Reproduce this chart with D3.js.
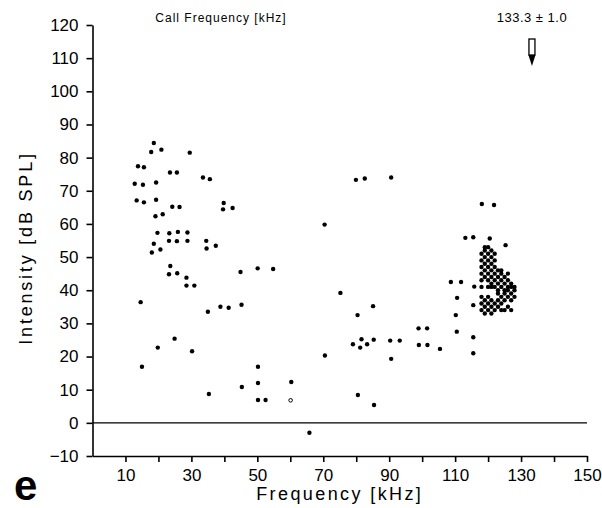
<!DOCTYPE html>
<html><head><meta charset="utf-8">
<script src="https://cdn.jsdelivr.net/npm/d3@7"></script>
<style>
body{margin:0;background:#fff}
svg{display:block}
text{font-family:"Liberation Sans",Arial,sans-serif;fill:#000}
</style>
</head><body>
<svg id="chart" width="602" height="508"></svg>
<script>
// ---------- data ----------
const xTickValues = [10,20,30,40,50,60,70,80,90,100,110,120,130,140,150];
const xTickLabels = ["10","","30","","50","","70","","90","","110","","130","","150"];
const yTickValues = [-10,0,10,20,30,40,50,60,70,80,90,100,110,120];

// scattered responses (kHz, dB SPL)
const scatterFreq = [18.6,17.8,20.9,29.5,13.8,15.6,23.5,25.6,33.5,35.6,12.8,15.3,19.3,13.4,15.6,19.3,24.2,26.4,39.8,39.6,42.5,19.1,21.3,19.7,23.3,25.9,28.8,18.6,23.2,25.6,28.8,34.5,20.6,18.0,34.6,37.4,23.6,23.2,25.7,28.5,44.9,50.1,54.8,28.5,30.9,14.6,38.8,41.3,45.2,35.0,24.9,19.8,30.2,15.0,50.2,35.3,45.3,50.2,50.2,52.5,60.3,65.8,70.4,70.5,79.9,82.6,90.6,75.2,85.1,80.4,81.6,79.0,81.2,83.3,85.3,90.3,93.2,90.6,80.5,85.4,98.9,101.5,99.0,101.6,105.4,108.7,111.8,115.8,110.6,115.5,110.2,110.5,115.5,115.5,113.1,115.5,120.5,125.3,118.1,121.8];
const scatterIntensity = [84.4,81.7,82.4,81.5,77.4,77.1,75.5,75.5,74.0,73.5,72.1,71.8,72.5,67.1,66.5,67.3,65.2,65.1,66.3,64.4,64.8,62.3,62.9,57.3,57.2,57.6,57.4,54.0,54.9,54.8,54.9,54.9,52.3,51.4,52.6,53.4,47.3,44.8,45.1,43.8,45.5,46.6,46.4,41.4,41.4,36.4,35.0,34.7,35.6,33.5,25.4,22.7,21.6,16.9,16.9,8.7,10.8,12.0,6.9,6.9,12.3,-3.0,59.8,20.3,73.3,73.7,74.0,39.2,35.2,32.5,25.2,23.7,22.7,23.7,25.1,24.8,24.8,19.3,8.4,5.4,28.5,28.5,23.5,23.5,22.3,42.5,42.5,41.1,37.7,35.5,32.5,27.5,25.8,21.0,55.8,56.0,55.6,53.6,66.0,65.7];

// open symbol
const hollowFreq = [60.1];
const hollowIntensity = [6.8];

// dense responses near the call frequency
const clusterFreq = [
118,118,118,118,118,118,118,118,118,
119,119,119,119,119,119,119,119,119,
120,120,120,120,120,120,120,120,120,120,
121,121,121,121,121,121,121,121,121,121,
122,122,122,122,122,122,122,122,
123,123,123,123,123,123,123,
124,124,124,124,124,124,124,
125,125,125,125,125,125,
126,126,126,126,126,126,
127,127,127,127,127,
128,128,128];
const clusterIntensity = [
34,36,38,41,43,45,47,49,51,
33,35,37,44,46,48,50,52,53,
34,36,38,41,43,45,47,49,51,53,
33,35,37,41,42,44,46,48,50,52,
34,36,41,43,45,47,49,51,
35,37,39,40,42,44,46,
34,36,38,41,43,45,46,
34,37,39,40,42,44,
35,38,40,41,43,45,
34,37,39,41,42,
38,40,41];

const callFrequency = 133.3;
const callFrequencyLabel = "133.3 \u00B1 1.0";
const topTitle = "Call Frequency [kHz]";
const xTitle = "Frequency [kHz]";
const yTitle = "Intensity [dB SPL]";
const panelLetter = "e";

// ---------- drawing ----------
const svg = d3.select("#chart");
const x = d3.scaleLinear().domain([0,150]).range([92.5,587]);
const y = d3.scaleLinear().domain([-10,120]).range([456,25]);

const ink = "#000";

// y axis
const yAxis = svg.append("g").attr("transform",`translate(${x(0)},0)`)
  .call(d3.axisLeft(y).tickValues(yTickValues).tickSize(6).tickPadding(8).tickSizeOuter(0));
yAxis.selectAll("text").style("font-size","17px");

// x axis
const xAxis = svg.append("g").attr("transform",`translate(0,${y(-10)})`)
  .call(d3.axisBottom(x).tickValues(xTickValues).tickFormat((d,i)=>xTickLabels[i]).tickSize(6).tickPadding(7).tickSizeOuter(0));
xAxis.selectAll("text").style("font-size","17px");

svg.selectAll(".domain, .tick line").attr("stroke",ink).attr("stroke-width",1.6);

// zero line
svg.append("line")
  .attr("x1",x(0)).attr("x2",x(150)).attr("y1",y(0)).attr("y2",y(0))
  .attr("stroke",ink).attr("stroke-width",1.3);

// points
const pts = scatterFreq.map((f,i)=>({f, v:scatterIntensity[i]}))
  .concat(clusterFreq.map((f,i)=>({f, v:clusterIntensity[i]})));
svg.append("g").selectAll("circle").data(pts).join("circle")
  .attr("cx",d=>x(d.f)).attr("cy",d=>y(d.v)).attr("r",2.2).attr("fill",ink);

svg.append("g").selectAll("circle").data(hollowFreq.map((f,i)=>({f,v:hollowIntensity[i]}))).join("circle")
  .attr("cx",d=>x(d.f)).attr("cy",d=>y(d.v)).attr("r",1.8)
  .attr("fill","#fff").attr("stroke",ink).attr("stroke-width",1);

// titles
svg.append("text").attr("x",(x(0)+x(150))/2).attr("y",500)
  .attr("text-anchor","middle").style("font-size","18px").style("letter-spacing","2.4px")
  .text(xTitle);
svg.append("text").attr("transform","translate(32,248) rotate(-90)")
  .attr("text-anchor","middle").style("font-size","18px").style("letter-spacing","2.8px")
  .text(yTitle);
svg.append("text").attr("x",221).attr("y",22)
  .attr("text-anchor","middle").style("font-size","12px").style("letter-spacing","1px")
  .text(topTitle);
svg.append("text").attr("x",14).attr("y",500)
  .style("font-size","42px").style("font-weight","bold")
  .text(panelLetter);

// call frequency marker
const ax = x(callFrequency);
svg.append("text").attr("x",ax).attr("y",22)
  .attr("text-anchor","middle").style("font-size","13px").style("letter-spacing","0.5px")
  .text(callFrequencyLabel);
svg.append("rect").attr("x",ax-3).attr("y",39).attr("width",6).attr("height",16)
  .attr("fill","#fff").attr("stroke",ink).attr("stroke-width",1.3);
svg.append("path")
  .attr("d",`M${ax-3.5},55 L${ax+3.5},55 L${ax},66 Z`)
  .attr("fill",ink);
</script>
</body></html>
